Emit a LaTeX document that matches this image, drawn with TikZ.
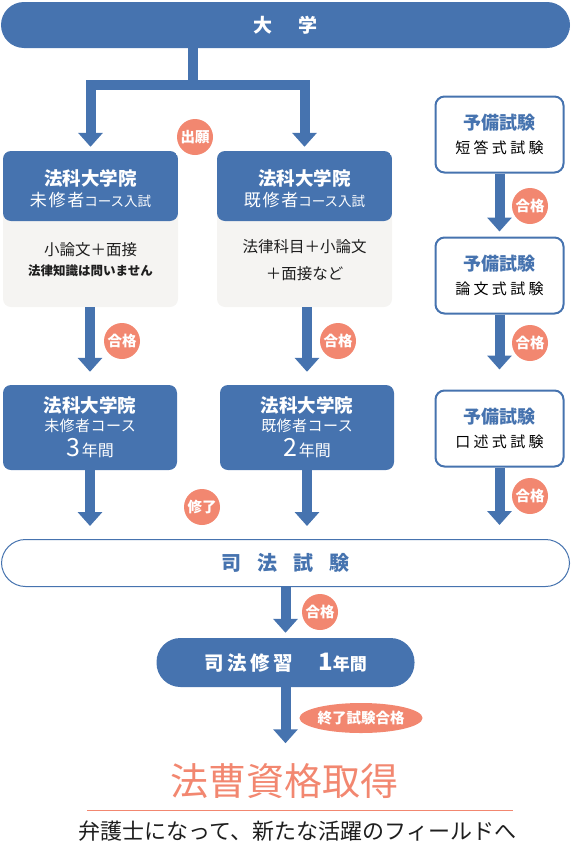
\documentclass[tikz,border=0pt]{standalone}
\usepackage{fontspec}
\setmainfont{Noto Sans CJK JP}
\usetikzlibrary{arrows.meta, shapes.geometric}

\definecolor{lawblue}{RGB}{70,115,175}
\definecolor{passred}{RGB}{242,135,112}
\definecolor{bodygray}{RGB}{245,244,242}
\definecolor{inkblack}{RGB}{30,30,30}

\newcommand{\fs}[1]{\fontsize{#1}{#1}\selectfont}

\tikzset{
  pill/.style={fill=lawblue, rounded corners=#1, inner sep=0pt, text=white},
  entrybox/.style={rectangle, rounded corners=8pt, fill=bodygray, inner sep=0pt,
    minimum width=175pt, minimum height=156pt,
    path picture={\fill[lawblue] (path picture bounding box.north west) rectangle
      ([yshift=-70pt]path picture bounding box.north east);}},
  headtext/.style={text=white, align=center, inner sep=0pt},
  bodytext/.style={text=inkblack, align=center, inner sep=0pt},
  coursebox/.style={rectangle, rounded corners=8pt, fill=lawblue, text=white, align=center,
    minimum width=174pt, minimum height=85pt, inner sep=0pt},
  yobibox/.style={rectangle, rounded corners=9pt, draw=lawblue, line width=2pt, fill=white,
    align=center, minimum width=128pt, minimum height=76pt, inner sep=0pt},
  badge/.style={circle, fill=passred, text=white, minimum size=36pt, inner sep=0pt,
    font=\bfseries\fs{14.5}},
  flow/.style={draw=lawblue, line width=10pt, -{Triangle[width=24pt, length=14pt]}},
}

\begin{document}
\begin{tikzpicture}[x=1pt, y=-1pt]
  \useasboundingbox (0,0) rectangle (571,854);

  \node[pill=23pt, minimum width=569pt, minimum height=46pt, font=\bfseries\fs{19}] (daigaku) at (285.5,25) {大\hspace{1.4em}学};

  % entrance exams
  \node[entrybox] (mishuExam) at (90.5,229) {};
  \node[headtext] (mishuHead) at ([yshift=-38pt]mishuExam.north) {{\bfseries\fs{18.5}法科大学院}\\[4pt]{\fs{17}\addfontfeature{LetterSpace=10}未修者}{\fs{13.5}コース入試}};
  \node[bodytext] (mishuBody) at ([yshift=-109pt]mishuExam.north) {{\fs{15.5}小論文＋面接}\\[8pt]{\bfseries\fs{12.5}法律知識は問いません}};

  \node[entrybox] (kishuExam) at (304.5,229) {};
  \node[headtext] (kishuHead) at ([yshift=-38pt]kishuExam.north) {{\bfseries\fs{18.5}法科大学院}\\[4pt]{\fs{17}\addfontfeature{LetterSpace=10}既修者}{\fs{13.5}コース入試}};
  \node[bodytext] (kishuBody) at ([yshift=-109pt]kishuExam.north) {{\fs{15.5}法律科目＋小論文}\\[12pt]{\fs{15.5}＋面接など}};

  % courses
  \node[coursebox] (mishuCourse) at (90,427.5) {{\bfseries\fs{18.5}法科大学院}\\[3pt]{\fs{15}\addfontfeature{LetterSpace=3}未修者コース}\\[5pt]{\fs{25}3}\,{\fs{16}年間}};
  \node[coursebox] (kishuCourse) at (307,427.5) {{\bfseries\fs{18.5}法科大学院}\\[3pt]{\fs{15}\addfontfeature{LetterSpace=3}既修者コース}\\[5pt]{\fs{25}2}\,{\fs{16}年間}};

  % preliminary exam
  \node[yobibox] (yobiTanto) at (499.5,134.5) {{\bfseries\fs{18}\color{lawblue}予備試験}\\[8pt]{\fs{15}\addfontfeature{LetterSpace=22}短答式試験}};
  \node[yobibox] (yobiRonbun) at (499.5,275.5) {{\bfseries\fs{18}\color{lawblue}予備試験}\\[8pt]{\fs{15}\addfontfeature{LetterSpace=22}論文式試験}};
  \node[yobibox] (yobiKojutsu) at (499.5,428.5) {{\bfseries\fs{18}\color{lawblue}予備試験}\\[8pt]{\fs{15}\addfontfeature{LetterSpace=22}口述式試験}};

  % bar exam and training
  \node[rectangle, rounded corners=24pt, draw=lawblue, line width=1pt, fill=white, minimum width=568pt, minimum height=47pt,
    text=lawblue, font=\bfseries\fs{20}] (shihoExam) at (285.5,563) {司\hspace{0.8em}法\hspace{0.8em}試\hspace{0.8em}験};
  \node[pill=24pt, minimum width=258pt, minimum height=49pt, font=\bfseries\fs{19.5}] (shihoTraining) at (285.5,662.5) {{\addfontfeature{LetterSpace=18}司法修習}\hspace{1.3em}{\fs{24}1}{\fs{17}年間}};

  % goal
  \node[text=passred, inner sep=0pt, font=\fs{38}] (goal) at (284,781) {法曹資格取得};
  \coordinate (ruleL) at (87,810);
  \coordinate (ruleR) at (513,810);
  \draw[passred, line width=1pt] (ruleL) -- (ruleR);
  \node[text=inkblack, inner sep=0pt, font=\fs{22}] (career) at (297.5,831) {弁護士になって、新たな活躍のフィールドへ};

  % arrows
  \coordinate (split) at (193,85);
  \draw[draw=lawblue, line width=10pt] (daigaku.south -| split) -- (split);
  \draw[flow, shorten >=4pt] (split) -| (mishuExam.north);
  \draw[flow, shorten >=4pt] (split) -| (kishuExam.north);
  \draw[flow, shorten >=13pt] (mishuExam.south -| mishuCourse.north) -- (mishuCourse.north);
  \draw[flow, shorten >=13pt] (kishuExam.south -| kishuCourse.north) -- (kishuCourse.north);
  \draw[flow, shorten >=13pt] (mishuCourse.south) -- (mishuCourse.south |- shihoExam.north);
  \draw[flow, shorten >=13pt] (kishuCourse.south) -- (kishuCourse.south |- shihoExam.north);
  \draw[flow, shorten >=5pt] (yobiTanto.south) -- (yobiRonbun.north);
  \draw[flow, shorten >=20pt] (yobiRonbun.south) -- (yobiKojutsu.north);
  \draw[flow, shorten >=14pt] (yobiKojutsu.south) -- (yobiKojutsu.south |- shihoExam.north);
  \draw[flow, shorten >=5pt] (shihoExam.south -| shihoTraining.north) -- (shihoTraining.north);
  \draw[flow, shorten >=20pt] (shihoTraining.south) -- (shihoTraining.south |- goal.north);

  % badges
  \node[badge] (apply) at (195,137) {出願};
  \node[badge] (passMishu) at (122,341) {合格};
  \node[badge] (passKishu) at (338,341) {合格};
  \node[badge] (passTanto) at (530,206) {合格};
  \node[badge] (passRonbun) at (530,343) {合格};
  \node[badge] (passKojutsu) at (530,496) {合格};
  \node[badge] (complete) at (202,507) {修了};
  \node[badge] (passShiho) at (320,612) {合格};
  \node[ellipse, fill=passred, text=white, minimum width=122pt, minimum height=30pt, inner sep=0pt,
    font=\bfseries\fs{14.5}] (passFinal) at (361,718) {終了試験合格};
\end{tikzpicture}
\end{document}
